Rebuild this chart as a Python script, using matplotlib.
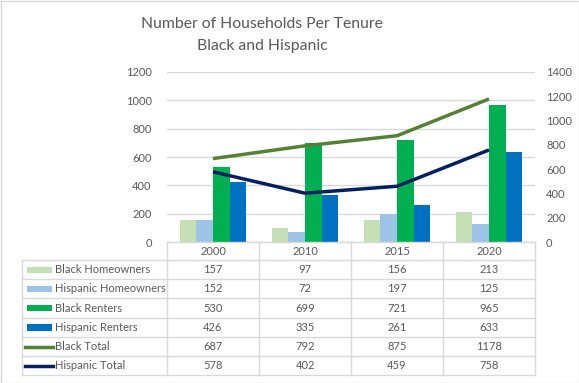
import matplotlib.pyplot as plt
from matplotlib.patches import Rectangle
from matplotlib.lines import Line2D

plt.rcParams['font.family'] = ['Lato', 'DejaVu Sans']

# data
years = ['2000', '2010', '2015', '2020']
black_home = [157, 97, 156, 213]
hisp_home = [152, 72, 197, 125]
black_rent = [530, 699, 721, 965]
hisp_rent = [426, 335, 261, 633]
black_total = [687, 792, 875, 1178]
hisp_total = [578, 402, 459, 758]

bar_series = [
    ('Black Homeowners', black_home, '#C5E0B4'),
    ('Hispanic Homeowners', hisp_home, '#9DC3E6'),
    ('Black Renters', black_rent, '#00B050'),
    ('Hispanic Renters', hisp_rent, '#0070C0'),
]
line_series = [
    ('Black Total', black_total, '#548235'),
    ('Hispanic Total', hisp_total, '#002060'),
]

W, H = 579, 383
text_col = '#595959'
grid_col = '#D9D9D9'

fig = plt.figure(figsize=(W / 100, H / 100), dpi=100)

def fx(px):
    return px / W

def fy(py):
    return 1 - py / H

# plot area in pixels
x0, x1 = 167, 535
y_top, y_bot = 72, 242

ax = fig.add_axes([fx(x0), fy(y_bot), fx(x1) - fx(x0), fy(y_top) - fy(y_bot)])
ax2 = ax.twinx()

xs = list(range(len(years)))
w = 0.18
for i, (name, vals, col) in enumerate(bar_series):
    off = (i - 1.5) * w
    ax.bar([x + off for x in xs], vals, width=w, color=col, zorder=3)

for name, vals, col in line_series:
    ax2.plot(xs, vals, color=col, linewidth=2.5, solid_capstyle='butt', zorder=4)

ax.set_xlim(-0.5, len(years) - 0.5)
ax.set_ylim(0, 1200)
ax2.set_ylim(0, 1400)
ax.set_yticks(range(0, 1201, 200))
ax2.set_yticks(range(0, 1401, 200))
ax.set_xticks([])
ax.grid(axis='y', color=grid_col, linewidth=1, zorder=0)
for a in (ax, ax2):
    for s in a.spines.values():
        s.set_visible(False)
    a.tick_params(length=0, labelsize=8, labelcolor=text_col)
ax.tick_params(axis='y', pad=11)
ax2.tick_params(axis='y', pad=8)
ax.set_zorder(ax2.get_zorder() - 1)
ax2.patch.set_visible(False)
ax.patch.set_visible(False)

# title
fig.text(fx(262), fy(24), 'Number of Households Per Tenure', ha='center', va='center',
         fontsize=11.3, color=text_col)
fig.text(fx(262), fy(46), 'Black and Hispanic', ha='center', va='center',
         fontsize=11.3, color=text_col)

# data table
tl = 22
col_edges = [x0 + (x1 - x0) * k / len(years) for k in range(len(years) + 1)]
row_edges = [242, 260, 279, 298, 318, 337, 356, 375]
lc = grid_col

def hline(y, xa, xb):
    fig.add_artist(Line2D([fx(xa), fx(xb)], [fy(y), fy(y)], color=lc, linewidth=1))

def vline(x, ya, yb):
    fig.add_artist(Line2D([fx(x), fx(x)], [fy(ya), fy(yb)], color=lc, linewidth=1))

hline(row_edges[0], x0, x1)
for y in row_edges[1:]:
    hline(y, tl, x1)
for x in col_edges:
    vline(x, row_edges[0], row_edges[-1])
vline(tl, row_edges[1], row_edges[-1])

for j, yr in enumerate(years):
    cx = (col_edges[j] + col_edges[j + 1]) / 2
    fig.text(fx(cx), fy((row_edges[0] + row_edges[1]) / 2), yr, ha='center', va='center',
             fontsize=8, color=text_col)

rows = [(n, v, c, 'bar') for n, v, c in bar_series] + [(n, v, c, 'line') for n, v, c in line_series]
for r, (name, vals, col, kind) in enumerate(rows):
    ya, yb = row_edges[r + 1], row_edges[r + 2]
    cy = (ya + yb) / 2
    if kind == 'bar':
        fig.add_artist(Rectangle((fx(27), fy(cy + 3)), fx(52) - fx(27), fy(cy - 3) - fy(cy + 3),
                                 color=col, linewidth=0))
    else:
        fig.add_artist(Line2D([fx(25), fx(53)], [fy(cy), fy(cy)], color=col, linewidth=2.5))
    fig.text(fx(55), fy(cy), name, ha='left', va='center', fontsize=8, color=text_col)
    for j, v in enumerate(vals):
        cx = (col_edges[j] + col_edges[j + 1]) / 2
        fig.text(fx(cx), fy(cy), str(v), ha='center', va='center', fontsize=8, color=text_col)

# chart border
fig.add_artist(Rectangle((0.5 / W, 0.5 / H), 1 - 1.0 / W, 1 - 1.0 / H, fill=False,
                         edgecolor=grid_col, linewidth=1))

fig.savefig('out.png', dpi=100)
